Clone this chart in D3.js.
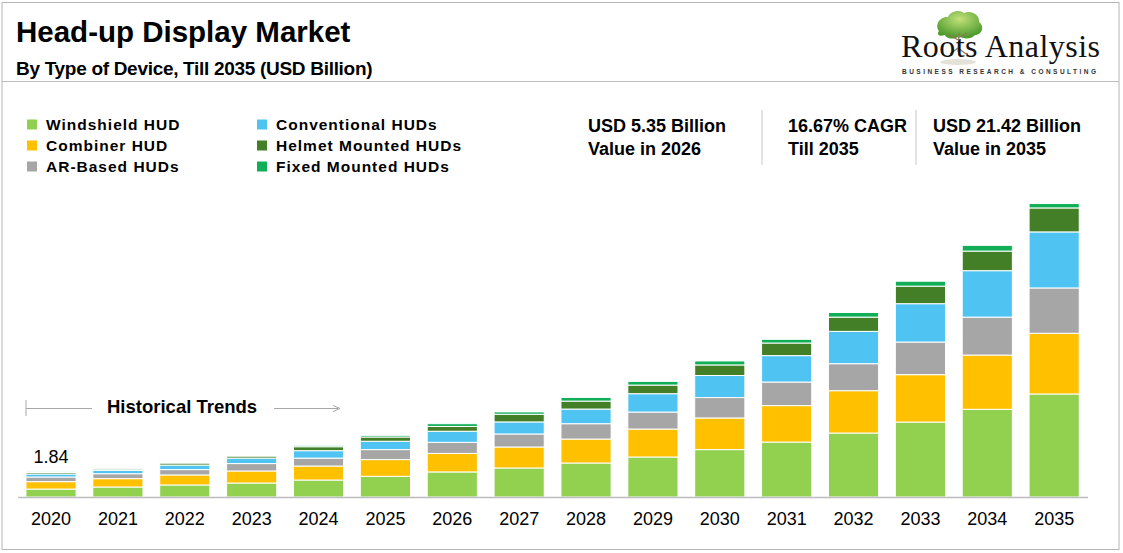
<!DOCTYPE html>
<html>
<head>
<meta charset="utf-8">
<script src="https://cdn.jsdelivr.net/npm/d3@7"></script>
<style>
  body { margin: 0; background: #fff; }
  svg text { font-family: Arial, "Liberation Sans", sans-serif; }
</style>
</head>
<body>
<div id="chart"></div>
<script>
// values (USD Billion)
const years = ['2020','2021','2022','2023','2024','2025','2026','2027','2028','2029','2030','2031','2032','2033','2034','2035']
const windshield   = [0.58, 0.73, 0.88, 1.02, 1.24, 1.51, 1.83, 2.12, 2.48, 2.92, 3.46, 4.01, 4.67, 5.47, 6.40, 7.52]
const combiner     = [0.54, 0.61, 0.73, 0.88, 1.02, 1.22, 1.35, 1.53, 1.75, 2.04, 2.31, 2.66, 3.09, 3.46, 3.96, 4.43]
const arBased      = [0.34, 0.36, 0.39, 0.54, 0.58, 0.73, 0.81, 0.95, 1.12, 1.24, 1.49, 1.72, 1.97, 2.38, 2.77, 3.31]
const conventional = [0.22, 0.24, 0.33, 0.40, 0.54, 0.61, 0.81, 0.88, 1.07, 1.34, 1.61, 1.93, 2.36, 2.80, 3.39, 4.09]
const helmet       = [0.11, 0.10, 0.15, 0.15, 0.29, 0.31, 0.35, 0.56, 0.58, 0.63, 0.77, 0.92, 1.04, 1.28, 1.43, 1.75]
const fixedMounted = [0.05, 0.03, 0.05, 0.05, 0.10, 0.12, 0.20, 0.17, 0.27, 0.27, 0.29, 0.27, 0.34, 0.36, 0.42, 0.32]

const seriesNames = ['Windshield HUD','Combiner HUD','AR-Based HUDs','Conventional HUDs','Helmet Mounted HUDs','Fixed Mounted HUDs']
const seriesColors = ['#92D050','#FFC000','#A6A6A6','#4FC4F2','#427F27','#0FAE57']
const firstLabel = '1.84'
const stats = [
    ['USD 5.35 Billion', 'Value in 2026'],
    ['16.67% CAGR', 'Till 2035'],
    ['USD 21.42 Billion', 'Value in 2035']
]

const W = 1123, H = 553
let svg = d3.select('#chart').append('svg')
    .attr('width', W)
    .attr('height', H)

// frame + header line
svg.append('rect')
    .attr('x', 2).attr('y', 2.5)
    .attr('width', 1117).attr('height', 547)
    .attr('fill', 'none')
    .style('stroke', '#b5b5b5')
    .style('stroke-width', 1)
svg.append('line')
    .attr('x1', 2).attr('x2', 1119)
    .attr('y1', 81.5).attr('y2', 81.5)
    .style('stroke', '#bdbdbd')

svg.append('text')
    .attr('x', 16).attr('y', 42)
    .text('Head-up Display Market')
    .style('font-size', '29.5px')
    .style('font-weight', 'bold')
svg.append('text')
    .attr('x', 16).attr('y', 75)
    .text('By Type of Device, Till 2035 (USD Billion)')
    .style('font-size', '19px')
    .style('font-weight', 'bold')
    .style('letter-spacing', '-0.3px')

// logo
let logo = svg.append('g').attr('id', 'logo')
let grad = svg.append('defs').append('radialGradient')
    .attr('id', 'treeGrad').attr('cx', '50%').attr('cy', '30%').attr('r', '65%')
grad.append('stop').attr('offset', '0%').attr('stop-color', '#c2e27a')
grad.append('stop').attr('offset', '100%').attr('stop-color', '#4f9b2e')
logo.append('path')
    .attr('d', 'M939,31 C934,24 941,16 948,17 C950,11 960,9 964,13 C971,10 980,15 979,22 C985,26 982,35 975,35 C971,40 962,39 959,36 C955,40 946,39 945,35 C940,37 936,35 939,31 Z')
    .attr('fill', 'url(#treeGrad)')
logo.append('path')
    .attr('d', 'M959,33 L958,52 M958,40 L950,35 M958,38 L967,33 M958,48 L950,54 M958,48 L966,54')
    .attr('fill', 'none')
    .style('stroke', '#8a7a5a')
    .style('stroke-width', 1.2)
logo.append('ellipse')
    .attr('cx', 958).attr('cy', 62).attr('rx', 18).attr('ry', 3)
    .attr('fill', '#d9d4c8').attr('opacity', 0.7)
logo.append('text')
    .attr('x', 901).attr('y', 57)
    .text('Roots Analysis')
    .style('font-family', '"Liberation Serif", "Times New Roman", serif')
    .style('font-size', '32px')
    .attr('textLength', 199)
    .attr('fill', '#111')
logo.append('text')
    .attr('x', 902).attr('y', 74)
    .text('BUSINESS RESEARCH & CONSULTING')
    .style('font-size', '6.5px')
    .style('font-weight', 'bold')
    .attr('textLength', 194)
    .attr('fill', '#333')

// legend
let legend = svg.append('g').attr('id', 'legend')
seriesNames.forEach((name, i) => {
    let col = Math.floor(i / 3), row = i % 3
    let gx = col === 0 ? 27 : 257
    let gy = 124.5 + row * 21
    legend.append('rect')
        .attr('x', gx).attr('y', gy - 5)
        .attr('width', 10).attr('height', 10)
        .attr('fill', seriesColors[i])
    legend.append('text')
        .attr('x', gx + 19).attr('y', gy + 5.5)
        .text(name)
        .style('font-size', '15.5px')
        .style('font-weight', 'bold')
        .style('letter-spacing', '1px')
})

// stat boxes
let statX = [588, 788, 933]
stats.forEach((s, i) => {
    svg.append('text')
        .attr('x', statX[i]).attr('y', 132)
        .text(s[0])
        .style('font-size', '18px')
        .style('font-weight', 'bold')
    svg.append('text')
        .attr('x', statX[i]).attr('y', 155)
        .text(s[1])
        .style('font-size', '18px')
        .style('font-weight', 'bold')
})
;[762, 916].forEach(x => {
    svg.append('line')
        .attr('x1', x).attr('x2', x)
        .attr('y1', 110).attr('y2', 165)
        .style('stroke', '#c8c8c8')
})

// stacked bars
let table = years.map((y, i) => ({
    year: y,
    'Windshield HUD': windshield[i],
    'Combiner HUD': combiner[i],
    'AR-Based HUDs': arBased[i],
    'Conventional HUDs': conventional[i],
    'Helmet Mounted HUDs': helmet[i],
    'Fixed Mounted HUDs': fixedMounted[i]
}))
let stacked = d3.stack().keys(seriesNames)(table)

let x = d3.scaleBand()
    .domain(years)
    .range([17.6, 1087.6])
    .paddingInner(0.25)
    .paddingOuter(0.125)
let y = d3.scaleLinear()
    .domain([0, 22])
    .range([497, 497 - 22 * 13.70])

let barsGroup = svg.append('g').attr('id', 'bars')
barsGroup.selectAll('g')
    .data(stacked)
    .join('g')
    .attr('fill', (d, i) => seriesColors[i])
    .selectAll('rect')
    .data(d => d)
    .join('rect')
    .attr('x', d => x(d.data.year))
    .attr('y', d => y(d[1]))
    .attr('width', x.bandwidth())
    .attr('height', d => y(d[0]) - y(d[1]))
    .style('stroke', '#fff')
    .style('stroke-width', 1)

// x axis
let xAxis = svg.append('g')
    .attr('transform', 'translate(0, 497)')
    .call(d3.axisBottom(x).tickSize(0).tickPadding(15))
xAxis.select('.domain')
    .style('stroke', '#bdbdbd')
    .style('stroke-width', 1.5)
xAxis.selectAll('text')
    .style('font-size', '18px')
    .attr('fill', '#000')

// value on first bar
let total0 = stacked[stacked.length - 1][0][1]
svg.append('text')
    .attr('x', x(years[0]) + x.bandwidth() / 2)
    .attr('y', y(total0) - 9)
    .text(firstLabel)
    .style('font-size', '18px')
    .style('text-anchor', 'middle')

// historical trends marker
let hist = svg.append('g').attr('id', 'historical')
hist.append('line')
    .attr('x1', 26).attr('x2', 26).attr('y1', 400).attr('y2', 416)
    .style('stroke', '#a8a8a8')
hist.append('line')
    .attr('x1', 26).attr('x2', 92).attr('y1', 408.5).attr('y2', 408.5)
    .style('stroke', '#a8a8a8')
hist.append('line')
    .attr('x1', 274).attr('x2', 338).attr('y1', 408.5).attr('y2', 408.5)
    .style('stroke', '#a8a8a8')
hist.append('path')
    .attr('d', 'M333,405.5 L340,408.5 L333,411.5')
    .attr('fill', 'none')
    .style('stroke', '#a8a8a8')
hist.append('text')
    .attr('x', 107).attr('y', 413)
    .text('Historical Trends')
    .style('font-size', '18.5px')
    .style('font-weight', 'bold')
</script>
</body>
</html>
